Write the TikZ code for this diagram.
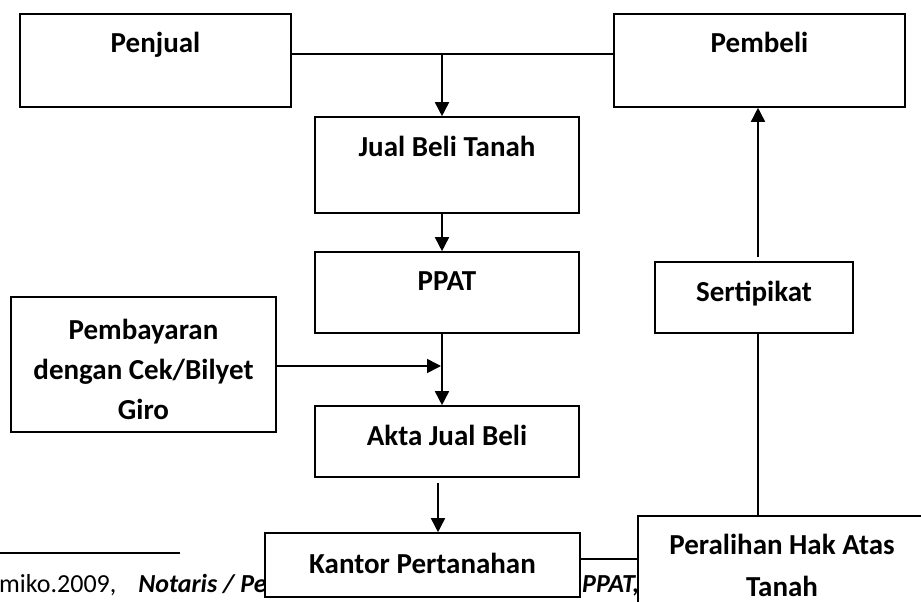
\documentclass[tikz,border=0pt]{standalone}
\usepackage{fontspec}
\setmainfont{Carlito}
\usetikzlibrary{arrows.meta}

\begin{document}
\begin{tikzpicture}[x=1pt, y=-1pt,
  box/.style={draw, line width=1.6pt, fill=white, inner sep=0pt, align=center,
    font=\fontsize{29}{40}\selectfont\bfseries},
  lift/.style={text height=20pt, text depth=#1},
  arr/.style={-{Triangle[width=14pt,length=14pt]}, line width=1.6pt},
  link/.style={line width=1.6pt},
  note/.style={inner sep=0pt, anchor=base west, font=\fontsize{26}{30}\selectfont}]
\path[use as bounding box, clip] (0,0) rectangle (921,602);

% Footnote
\draw[line width=1.8pt] (0,553) -- (180,553);
\node[note] (ref) at (-1,592) {miko.2009,\hspace{22pt}\textbf{\textit{Notaris / Pe}}};
\node[note] (refend) at (582,592) {\textbf{\textit{PPAT,}}};

% Top row
\node[box, lift=35pt, minimum width=271pt, minimum height=93pt] (penjual) at (155.5,60.5) {Penjual};
\node[box, lift=35pt, minimum width=291pt, minimum height=93pt] (pembeli) at (759.5,60.5) {Pembeli};

% Middle column
\node[box, lift=38pt, minimum width=264pt, minimum height=96pt] (jualbeli) at (447,165) {Jual Beli Tanah};
\node[box, lift=25pt, minimum width=264pt, minimum height=81pt] (ppat) at (447,292.5) {PPAT};
\node[box, lift=13pt, minimum width=264pt, minimum height=71pt] (akta) at (447,441.5) {Akta Jual Beli};
\node[box, lift=4pt, minimum width=315pt, minimum height=64pt] (kantor) at (422.5,565) {Kantor Pertanahan};

% Payment
\node[box, minimum width=265pt, minimum height=135pt] (bayar) at (143.5,364.5) {\\[-10pt]Pembayaran\\dengan Cek/Bilyet\\Giro};

% Right column
\node[box, lift=13pt, minimum width=198pt, minimum height=71pt] (sertipikat) at (754,297.5) {Sertipikat};
\node[box, font=\fontsize{29}{42}\selectfont\bfseries, minimum width=288pt, minimum height=99pt] (peralihan) at (782,565.5) {Peralihan Hak Atas\\Tanah};

% Connectors
\coordinate (split) at (442,54);
\coordinate (merge) at (441,366);
\coordinate (drop) at (438,483);
\coordinate (bridge) at (610,559);
\coordinate (rise) at (758,257);

\draw[link] (penjual.east |- split) -- (pembeli.west |- split);
\draw[arr] (split) -- (split |- jualbeli.north);
\draw[arr] (jualbeli.south -| split) -- (ppat.north -| split);
\draw[arr] (ppat.south -| split) -- (akta.north -| split);
\draw[arr] (bayar.east |- merge) -- (merge);
\draw[arr] (drop) -- (drop |- kantor.north);
\draw[link] (kantor.east |- bridge) -- (peralihan.west |- bridge);
\draw[link] (peralihan.north -| rise) -- (sertipikat.south -| rise);
\draw[arr] (rise) -- (rise |- pembeli.south);
\end{tikzpicture}
\end{document}
